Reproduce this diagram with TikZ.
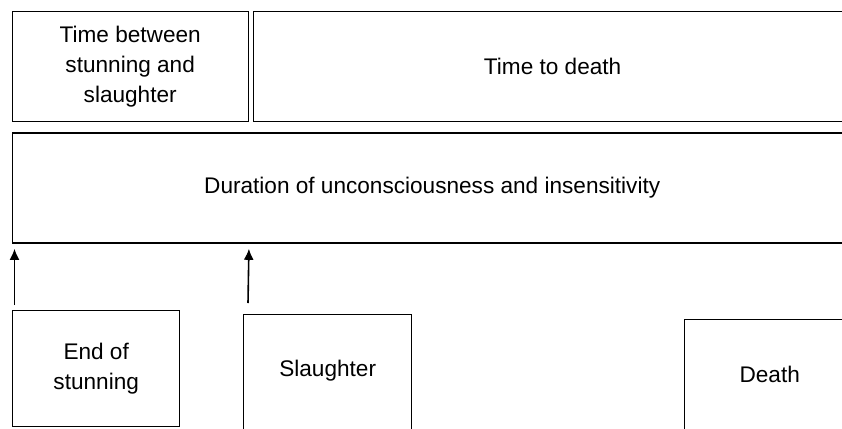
\documentclass[tikz,border=0pt]{standalone}
\usepackage{fontspec}
\setmainfont{Liberation Sans}
\usetikzlibrary{arrows.meta,positioning,calc}

\begin{document}
\begin{tikzpicture}[x=1pt,y=-1pt,font=\fontsize{22.6}{30}\selectfont,
   box/.style={draw,line width=1.4pt,minimum height=110pt,inner sep=0pt,
               align=center,anchor=north west},
   arr/.style={-{Latex[length=11pt,width=10pt]},line width=1.6pt}]
  \useasboundingbox (0,0) rectangle (842,428);
  \clip (0,0) rectangle (842,428);
  \node[box,minimum width=236pt] (ttime) at (11.5,11) {Time between\\stunning and\\slaughter};
  \node[box,minimum width=598pt,right=4pt of ttime.north east,anchor=north west] (tdeath) {Time to death};
  \node[box,minimum width=840pt,below=10pt of ttime.south west,anchor=north west] (dur)
       {Duration of unconsciousness and insensitivity};
  \node[box,minimum width=167pt,minimum height=116pt] (eos) at (12,310) {End of\\stunning};
  \node[box,minimum width=168pt,minimum height=120pt,text depth=12pt] (slau) at (243,314) {Slaughter};
  \node[box,minimum width=170pt] (death) at (684,319) {Death};
  \draw[arr] ($(eos.north west)+(2.5,-5)$) -- ($(eos.north west |- dur.south)+(2.5,5)$);
  \draw[arr] ($(slau.north west)+(5,-11)$) -- ($(ttime.south east |- dur.south)+(0,5)$);
\end{tikzpicture}
\end{document}
